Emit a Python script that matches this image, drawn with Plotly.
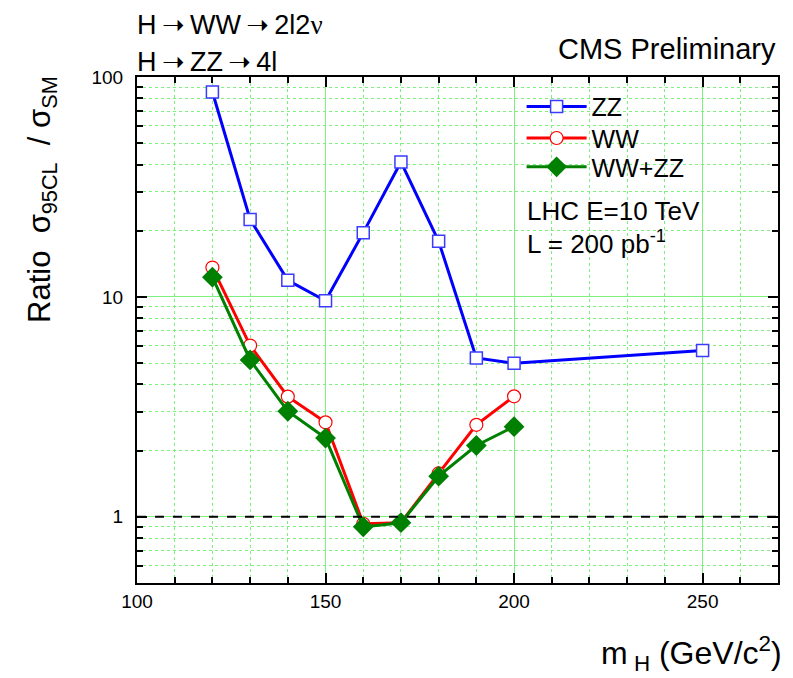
import plotly.graph_objects as go

mass = [120, 130, 140, 150, 160, 170, 180, 190, 200]
mass_zz = [120, 130, 140, 150, 160, 170, 180, 190, 200, 250]
ratio_zz = [85.5, 22.5, 11.9, 9.6, 19.6, 41.1, 17.9, 5.28, 4.99, 5.71]
ratio_ww = [13.6, 6.01, 3.52, 2.69, 0.93, 0.94, 1.575, 2.62, 3.53]
ratio_comb = [12.3, 5.17, 3.02, 2.28, 0.90, 0.94, 1.53, 2.11, 2.57]

FONT = "Arial, Liberation Sans, sans-serif"
GRID = "#7df07d"
ARROW = "\u2009<span style='font-family:DejaVu Sans'>➝</span>\u2009"

fig = go.Figure()
fig.add_trace(go.Scatter(x=mass_zz, y=ratio_zz, name="ZZ", mode="lines+markers",
                         legend="legend",
                         line=dict(color="#0000ff", width=3),
                         marker=dict(symbol="square", size=12, color="white",
                                     line=dict(color="#3b3bff", width=1.5))))
fig.add_trace(go.Scatter(x=mass, y=ratio_ww, name="WW", mode="lines+markers",
                         legend="legend2",
                         line=dict(color="#ff0000", width=3),
                         marker=dict(symbol="circle", size=13, color="white",
                                     line=dict(color="#ff0000", width=1.2))))
fig.add_trace(go.Scatter(x=mass, y=ratio_comb, name="WW+ZZ", mode="lines+markers",
                         legend="legend3",
                         line=dict(color="#008000", width=3),
                         marker=dict(symbol="diamond", size=16, color="#008000",
                                     line=dict(color="#008000", width=0))))

fig.add_shape(type="line", xref="paper", yref="y", x0=0, x1=1, y0=1, y1=1,
              line=dict(color="black", width=2, dash="dash"), layer="above")

def leg(ypos):
    return dict(x=0.6, y=ypos, xanchor="left", yanchor="middle",
                bgcolor="rgba(0,0,0,0)", font=dict(size=25), itemwidth=60)

fig.update_layout(
    width=793, height=678,
    margin=dict(l=137, r=15, t=77, b=95),
    paper_bgcolor="white", plot_bgcolor="white",
    font=dict(family=FONT, color="black", size=19),
    showlegend=True,
    legend=leg(0.941), legend2=leg(0.879), legend3=leg(0.822),
    xaxis=dict(range=[100, 270], tickvals=[100, 150, 200, 250],
               ticks="inside", ticklen=10, tickwidth=1.5, tickcolor="black",
               showline=True, linewidth=2, linecolor="black", mirror="allticks",
               showgrid=True, gridcolor=GRID, gridwidth=1, zeroline=False,
               tickfont=dict(size=19),
               minor=dict(dtick=10, ticks="inside", ticklen=6, tickcolor="black",
                          showgrid=True, gridcolor=GRID, griddash="dot", gridwidth=1)),
    yaxis=dict(type="log", range=[-0.301, 2.0], tickvals=[1, 10, 100],
               ticktext=["1", "10", "100"], ticklabelstandoff=8,
               ticks="inside", ticklen=10, tickwidth=1.5, tickcolor="black",
               showline=True, linewidth=2, linecolor="black", mirror="allticks",
               showgrid=True, gridcolor=GRID, gridwidth=1, zeroline=False,
               tickfont=dict(size=19),
               minor=dict(dtick="D1", ticks="inside", ticklen=6, tickcolor="black",
                          showgrid=True, gridcolor=GRID, griddash="dot", gridwidth=1)),
)

fig.add_annotation(text="H" + ARROW + "WW" + ARROW + "2l2<span style='font-family:Liberation Serif'>ν</span>",
                   xref="paper", yref="paper", x=0.0, y=1.0,
                   xshift=-2, yshift=53, xanchor="left", yanchor="middle",
                   showarrow=False, font=dict(size=27))
fig.add_annotation(text="H" + ARROW + "ZZ" + ARROW + "4l", xref="paper", yref="paper", x=0.0, y=1.0,
                   xshift=-2, yshift=16, xanchor="left", yanchor="middle",
                   showarrow=False, font=dict(size=27))
fig.add_annotation(text="CMS Preliminary", xref="paper", yref="paper", x=1.0, y=1.0,
                   yshift=28, xanchor="right", yanchor="middle",
                   showarrow=False, font=dict(size=29))
fig.add_annotation(text="LHC E=10 TeV", xref="paper", yref="paper", x=0.606, y=0.735,
                   xanchor="left", yanchor="middle", showarrow=False, font=dict(size=26))
fig.add_annotation(text="L = 200 pb<sup>-1</sup>", xref="paper", yref="paper", x=0.606, y=0.672,
                   xanchor="left", yanchor="middle", showarrow=False, font=dict(size=26))
fig.add_annotation(text="Ratio  σ<sub>95CL</sub>  / σ<sub>SM</sub>", xref="paper", yref="paper",
                   x=0, xshift=-95, y=0.757, textangle=-90, xanchor="center", yanchor="middle",
                   showarrow=False, font=dict(size=31))
fig.add_annotation(text="m<sub> H</sub> (GeV/c<sup>2</sup>)", xref="paper", yref="paper",
                   x=1.0, y=0, xshift=6, yshift=-70, xanchor="right", yanchor="middle",
                   showarrow=False, font=dict(size=32))

fig.write_html("out.html")
